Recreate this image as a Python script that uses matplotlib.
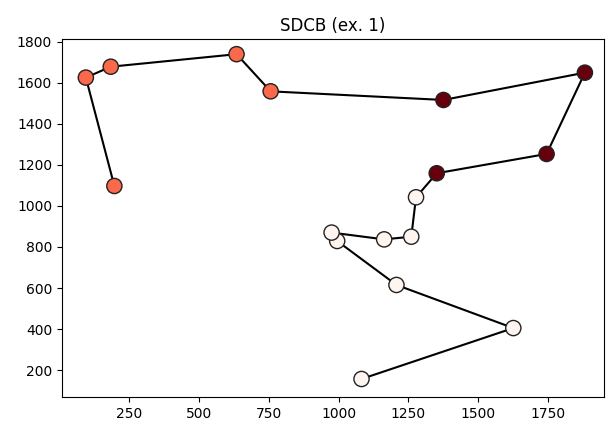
import numpy as np
import matplotlib.pyplot as plt

# Recorrido de puntos y etiqueta de grupo de cada uno (0, 1, 2)
xs = [1082, 1625, 1207, 995, 975, 1163, 1260, 1277,
      1351, 1744, 1881, 1375,
      757, 635, 185, 96, 198]
ys = [157, 405, 615, 829, 870, 837, 850, 1042,
      1159, 1253, 1649, 1516,
      1558, 1739, 1678, 1625, 1097]
grupos = [0, 0, 0, 0, 0, 0, 0, 0,
          2, 2, 2, 2,
          1, 1, 1, 1, 1]

fig = plt.figure(figsize=(6.06, 4.26), dpi=100)
ax = fig.add_axes([0.102, 0.067, 0.895, 0.841])

ax.plot(xs, ys, color='k', lw=1.5, zorder=1)
ax.scatter(xs, ys, c=grupos, cmap='Reds', vmin=0, vmax=2, s=120,
           edgecolors='#222222', linewidths=1, zorder=2)

ax.set_xlim(10, 1950)
ax.set_ylim(67, 1812)
ax.set_xticks([250, 500, 750, 1000, 1250, 1500, 1750])
ax.set_title('SDCB (ex. 1)')

plt.savefig('out.png', dpi=100)
